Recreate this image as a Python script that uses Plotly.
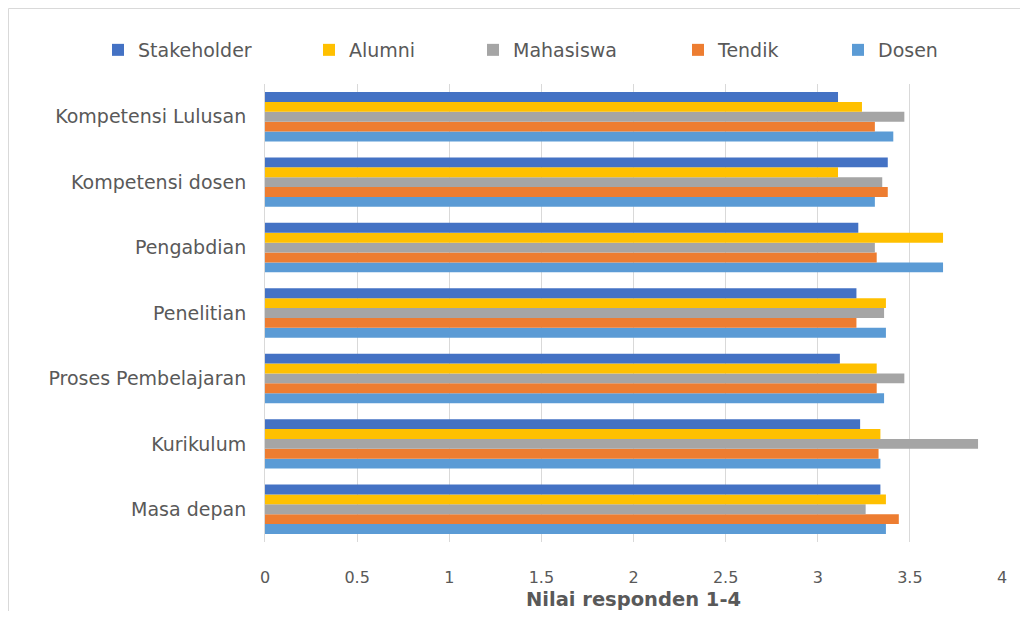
import plotly.graph_objects as go

categories = ["Kompetensi Lulusan", "Kompetensi dosen", "Pengabdian", "Penelitian",
              "Proses Pembelajaran", "Kurikulum", "Masa depan"]
stakeholder = [3.11, 3.38, 3.22, 3.21, 3.12, 3.23, 3.34]
alumni      = [3.24, 3.11, 3.68, 3.37, 3.32, 3.34, 3.37]
mahasiswa   = [3.47, 3.35, 3.31, 3.36, 3.47, 3.87, 3.26]
tendik      = [3.31, 3.38, 3.32, 3.21, 3.32, 3.33, 3.44]
dosen       = [3.41, 3.31, 3.68, 3.37, 3.36, 3.34, 3.37]
tick_vals = [0, 0.5, 1, 1.5, 2, 2.5, 3, 3.5, 4]
tick_text = ["0", "0.5", "1", "1.5", "2", "2.5", "3", "3.5", "4"]

W, H = 1020, 603
ml, mt = 257, 76
plot_right, plot_bottom = 994, 534
mr, mb = W - plot_right, H - plot_bottom
pw, ph = W - ml - mr, H - mt - mb

def px2x(p):
    return (p - ml) / pw

def py2y(p):
    return (H - mb - p) / ph

FONT = "DejaVu Sans"
GREY = "#595959"

series = [
    ("Dosen", dosen, "#5B9BD5", 844),
    ("Tendik", tendik, "#ED7D31", 684),
    ("Mahasiswa", mahasiswa, "#A5A5A5", 479),
    ("Alumni", alumni, "#FFC000", 315),
    ("Stakeholder", stakeholder, "#4472C4", 104),
]

fig = go.Figure()
legends = {}
for i, (name, vals, col, lx) in enumerate(series):
    lname = "legend" if i == 0 else f"legend{i+1}"
    fig.add_trace(go.Bar(
        y=categories, x=vals, name=name, orientation="h",
        marker=dict(color=col, line=dict(width=0)),
        legend=lname,
    ))
    legends[lname] = dict(
        x=px2x(lx - 14), y=py2y(42), xanchor="left", yanchor="middle",
        orientation="h", bgcolor="rgba(0,0,0,0)",
        font=dict(family=FONT, size=19, color=GREY),
    )

fig.update_layout(
    width=W, height=H,
    margin=dict(l=ml, r=mr, t=mt, b=mb, autoexpand=False),
    paper_bgcolor="white", plot_bgcolor="white",
    barmode="group", bargap=0.245, bargroupgap=0,
    showlegend=True,
    font=dict(family=FONT, size=16, color=GREY),
    xaxis=dict(
        range=[0, 4], tickvals=tick_vals, ticktext=tick_text,
        showgrid=True, gridcolor="#D9D9D9", gridwidth=1,
        zeroline=False, showline=False, ticks="",
        ticklabelstandoff=24,
        tickfont=dict(family=FONT, size=16, color=GREY),
        title=dict(text="<b>Nilai responden 1-4</b>",
                   font=dict(family=FONT, size=19.5, color=GREY),
                   standoff=13),
        automargin=False,
    ),
    yaxis=dict(
        categoryorder="array", categoryarray=categories[::-1],
        showgrid=False, zeroline=False, showline=True, linecolor="#D9D9D9",
        linewidth=1, ticks="", ticklabelstandoff=14,
        tickfont=dict(family=FONT, size=19, color=GREY),
        automargin=False,
    ),
    shapes=[dict(type="rect", xref="paper", yref="paper",
                 x0=px2x(0.5), x1=px2x(W + 20), y0=py2y(H + 20), y1=py2y(0.5),
                 line=dict(color="#D9D9D9", width=1), fillcolor="rgba(0,0,0,0)",
                 layer="below")],
    **legends,
)

fig.write_html("out.html")
